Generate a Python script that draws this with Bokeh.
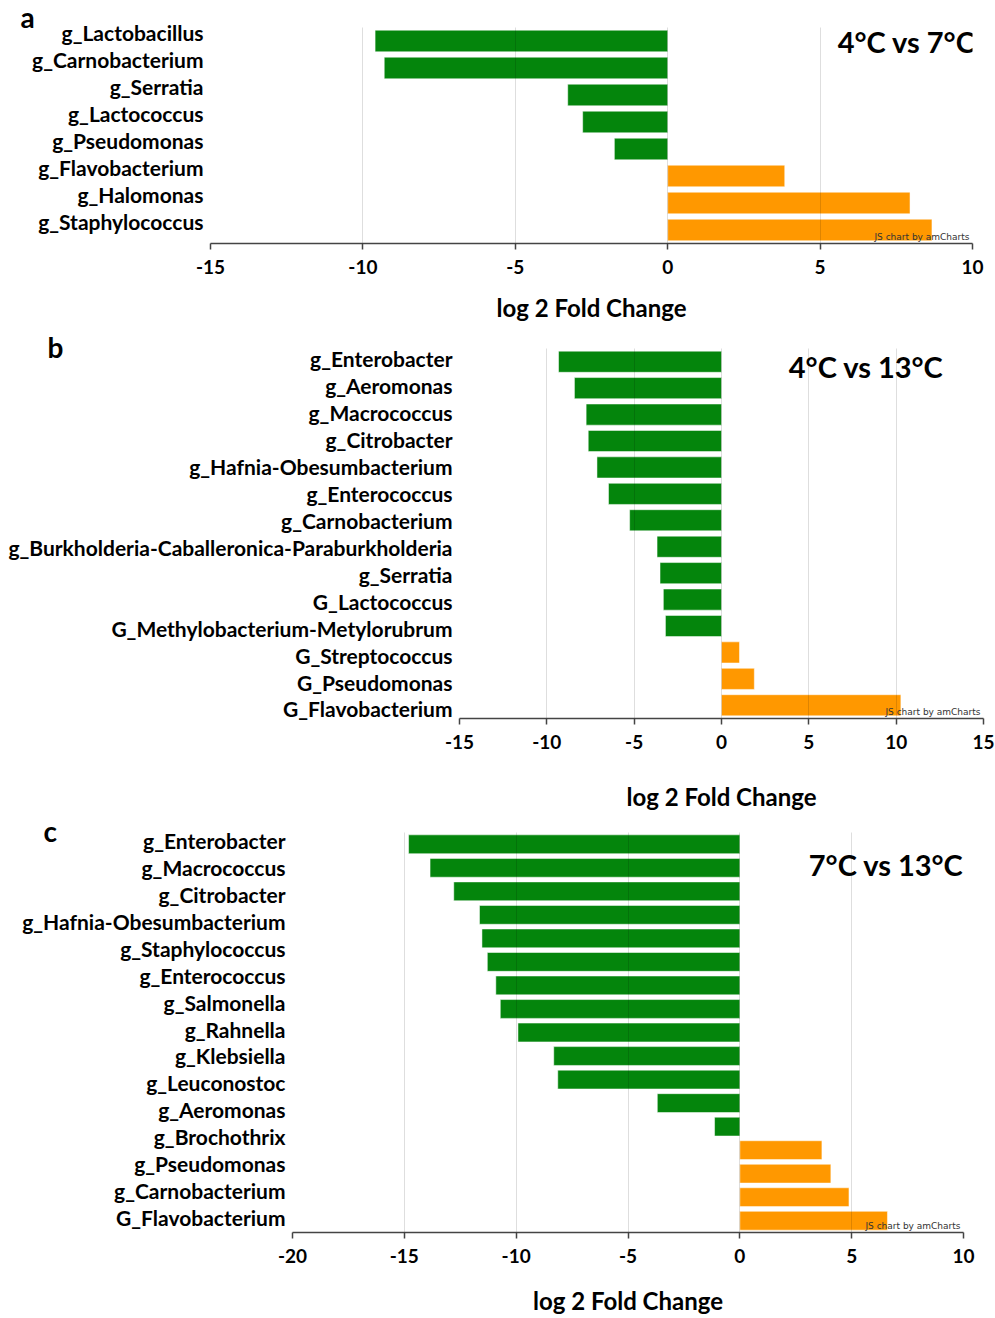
from bokeh.plotting import figure
from bokeh.models import Range1d, FixedTicker, LinearAxis, Label, ColumnDataSource
from bokeh.embed import file_html
from bokeh.resources import INLINE

# ---------------- data ----------------
a_labels = ["g_Lactobacillus", "g_Carnobacterium", "g_Serratia", "g_Lactococcus",
            "g_Pseudomonas", "g_Flavobacterium", "g_Halomonas", "g_Staphylococcus"]
a_values = [-9.6, -9.3, -3.28, -2.79, -1.75, 3.84, 7.95, 8.67]
a_ticks = [-15, -10, -5, 0, 5, 10]
a_title = "4°C vs 7°C"

b_labels = ["g_Enterobacter", "g_Aeromonas", "g_Macrococcus", "g_Citrobacter",
            "g_Hafnia-Obesumbacterium", "g_Enterococcus", "g_Carnobacterium",
            "g_Burkholderia-Caballeronica-Paraburkholderia", "g_Serratia",
            "G_Lactococcus", "G_Methylobacterium-Metylorubrum", "G_Streptococcus",
            "G_Pseudomonas", "G_Flavobacterium"]
b_values = [-9.33, -8.42, -7.75, -7.63, -7.13, -6.47, -5.26, -3.69, -3.52,
            -3.33, -3.21, 1.03, 1.88, 10.27]
b_ticks = [-15, -10, -5, 0, 5, 10, 15]
b_title = "4°C vs 13°C"

c_labels = ["g_Enterobacter", "g_Macrococcus", "g_Citrobacter", "g_Hafnia-Obesumbacterium",
            "g_Staphylococcus", "g_Enterococcus", "g_Salmonella", "g_Rahnella",
            "g_Klebsiella", "g_Leuconostoc", "g_Aeromonas", "g_Brochothrix",
            "g_Pseudomonas", "g_Carnobacterium", "G_Flavobacterium"]
c_values = [-14.81, -13.85, -12.79, -11.64, -11.53, -11.29, -10.91, -10.71, -9.92,
            -8.32, -8.14, -3.69, -1.13, 3.67, 4.07, 4.88, 6.60]
c_ticks = [-20, -15, -10, -5, 0, 5, 10]
c_title = "7°C vs 13°C"

x_title = "log 2 Fold Change"
watermark = "JS chart by amCharts"

GREEN = "#04850c"
ORANGE = "#ff9800"
FONT = "Lato"


def panel(labels, values, ticks, title, letter, height, borders, lab_range,
          letter_spec, title_pos, xlab_standoff):
    L, R, T, B = borders
    n = len(values)
    src = ColumnDataSource(dict(
        y=list(range(n)), v=values,
        c=[GREEN if v < 0 else ORANGE for v in values]))
    p = figure(width=995, height=height, output_backend="svg", toolbar_location=None,
               x_range=Range1d(ticks[0], ticks[-1]), y_range=Range1d(n - 0.5, -0.5),
               y_axis_location=None, min_border_left=L, min_border_right=R,
               min_border_top=T, min_border_bottom=B)
    p.outline_line_color = None
    p.background_fill_color = "white"
    p.border_fill_color = "white"

    p.hbar(y="y", left=0, right="v", height=0.8, fill_color="c", line_color="white",
           line_alpha=0.5, line_width=1, source=src)

    # label axis (separate range: labels are overlaid independently of the bars)
    p.extra_y_ranges = {"lab": Range1d(*lab_range)}
    yax = LinearAxis(y_range_name="lab",
                     ticker=FixedTicker(ticks=list(range(len(labels)))),
                     major_label_overrides={i: s for i, s in enumerate(labels)})
    yax.axis_line_color = None
    yax.major_tick_line_color = None
    yax.minor_tick_line_color = None
    yax.major_label_text_font = FONT
    yax.major_label_text_font_style = "bold"
    yax.major_label_text_font_size = "21px"
    yax.major_label_text_color = "black"
    yax.major_label_standoff = 1
    p.add_layout(yax, "left")

    xa = p.xaxis[0]
    xa.ticker = FixedTicker(ticks=ticks)
    xa.major_label_overrides = {t: str(t) for t in ticks}
    xa.axis_line_color = "#444444"
    xa.axis_line_width = 1.5
    xa.major_tick_line_color = "#444444"
    xa.major_tick_line_width = 1.5
    xa.major_tick_out = 6
    xa.major_tick_in = 0
    xa.minor_tick_line_color = None
    xa.major_label_text_font = FONT
    xa.major_label_text_font_style = "bold"
    xa.major_label_text_font_size = "19px"
    xa.major_label_text_color = "black"
    xa.major_label_standoff = 10
    xa.axis_label = x_title
    xa.axis_label_text_font = FONT
    xa.axis_label_text_font_style = "bold"
    xa.axis_label_text_font_size = "24px"
    xa.axis_label_text_color = "black"
    xa.axis_label_standoff = xlab_standoff

    p.ygrid.visible = False
    p.xgrid.ticker = FixedTicker(ticks=ticks)
    p.xgrid.grid_line_color = "black"
    p.xgrid.grid_line_alpha = 0.13
    p.xgrid.level = "overlay"

    p.add_layout(Label(x=title_pos[0], y=title_pos[1], text=title, text_align="right",
                       text_baseline="alphabetic",
                       text_font=FONT, text_font_style="bold", text_font_size="29px",
                       text_color="black"))

    # panel letter, drawn as the figure title (side panel, not clipped to the frame)
    p.title.text = letter
    p.title.align = "left"
    p.title.offset = letter_spec[0]
    p.title.standoff = letter_spec[1]
    p.title.vertical_align = "bottom"
    p.title.text_font = FONT
    p.title.text_font_style = "bold"
    p.title.text_font_size = "28px"
    p.title.text_color = "black"

    p.add_layout(Label(x=ticks[-1], y=n - 0.5, text=watermark, text_align="right",
                       text_baseline="bottom", x_offset=-3, y_offset=2,
                       text_font="DejaVu Sans", text_font_size="9px",
                       text_color="#333333"))
    return p


pa = panel(a_labels, a_values, a_ticks, a_title, "a", 325, (210, 23, 27, 82),
           (7.82, -0.185), (-190, -12), (10.10, 0.019), 16)
pb = panel(b_labels, b_values, b_ticks, b_title, "b", 490, (459, 12, 23, 97),
           (13.354, -0.39), (-412, -30), (12.71, 0.181), 30)
pc = panel(c_labels, c_values, c_ticks, c_title, "c", 503, (292, 32, 17, 86),
           (14.576, -0.316), (-249, -30), (10.0, 0.839), 20)

open("out.html", "w").write(file_html([pa, pb, pc], INLINE))
